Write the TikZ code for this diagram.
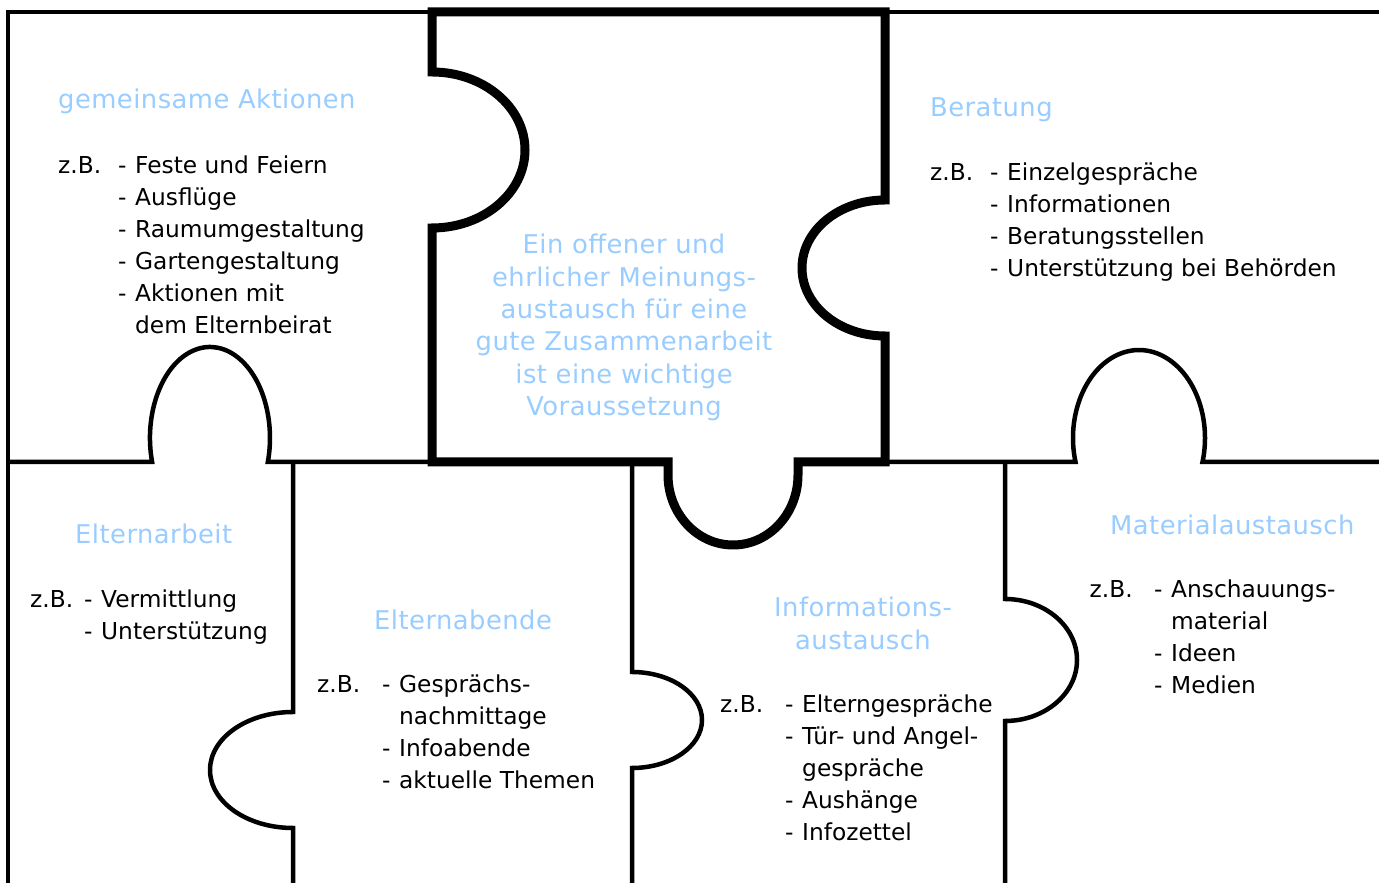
\documentclass[tikz,border=0pt]{standalone}
\usepackage{fontspec}
\setmainfont{DejaVu Sans}
\newfontfamily\pzblue[LetterSpace=1.8]{DejaVu Sans}
\definecolor{headblue}{RGB}{153,204,255}
\newcommand\pzitem{\makebox[17pt][l]{-}}
\newcommand\pzcont{\hspace*{17pt}}
\begin{document}
\begin{tikzpicture}[x=1pt,y=1pt,
  edgeline/.style={line width=4.5pt, line join=miter},
  centerline/.style={line width=9pt, line join=miter},
  head/.style={text=headblue, font=\pzblue\fontsize{25.8}{32.3}\selectfont, inner sep=0pt, anchor=base west},
  body/.style={font=\fontsize{23.3}{32}\selectfont, inner sep=0pt, anchor=base west, align=left}]
\useasboundingbox (0,0) rectangle (1379,883);
% thin puzzle edges
\draw[edgeline] (8,0) -- (8,871) -- (1379,871);
\draw[edgeline] (8,421) -- (152.1,421) arc[start angle=195.3, end angle=-15.3, x radius=60, y radius=91] -- (432,421);
\draw[edgeline] (885,421) -- (1075.5,421) arc[start angle=195.8, end angle=-15.8, x radius=66, y radius=88] -- (1379,421);
\draw[edgeline] (293,421) -- (293,171) arc[start angle=90, end angle=270, x radius=83, y radius=58] -- (293,0);
\draw[edgeline] (632,421) -- (632,211) arc[start angle=90, end angle=-90, x radius=70, y radius=48] -- (632,0);
\draw[edgeline] (1005,421) -- (1005,284) arc[start angle=90, end angle=-90, x radius=72, y radius=61] -- (1005,0);
% central piece
\draw[centerline] (432,871) -- (885,871) -- (885,683)
  arc[start angle=90, end angle=270, x radius=83, y radius=68] -- (885,421) -- (798,421) -- (798,408)
  arc[start angle=0, end angle=-180, x radius=65, y radius=70] -- (668,421) -- (432,421) -- (432,655)
  arc[start angle=-90, end angle=90, x radius=93, y radius=78] -- cycle;
% texts (multi-line nodes are anchored at the baseline of their last line)
\node[head] (h1) at (58,774) {gemeinsame Aktionen};
\node[body] (z1) at (58,709) {z.B.};
\node[body] (l1) at (118,549) {\pzitem Feste und Feiern\\\pzitem Ausflüge\\\pzitem Raumumgestaltung\\\pzitem Gartengestaltung\\\pzitem Aktionen mit\\\pzcont dem Elternbeirat};

\node[head] (h2) at (930,766) {Beratung};
\node[body] (z2) at (930,702) {z.B.};
\node[body] (l2) at (990,606) {\pzitem Einzelgespräche\\\pzitem Informationen\\\pzitem Beratungsstellen\\\pzitem Unterstützung bei Behörden};

\node[head, align=center, anchor=base] (c) at (624,467.5) {Ein offener und\\ehrlicher Meinungs-\\austausch für eine\\gute Zusammenarbeit\\ist eine wichtige\\Voraussetzung};

\node[head] (h3) at (75,339) {Elternarbeit};
\node[body] (z3) at (30,275) {z.B.};
\node[body] (l3) at (84,243) {\pzitem Vermittlung\\\pzitem Unterstützung};

\node[head] (h4) at (374,253) {Elternabende};
\node[body] (z4) at (317,190) {z.B.};
\node[body] (l4) at (382,94) {\pzitem Gesprächs-\\\pzcont nachmittage\\\pzitem Infoabende\\\pzitem aktuelle Themen};

\node[head, anchor=base, align=center] (h5) at (863,233.7) {Informations-\\austausch};
\node[body] (z5) at (720,170) {z.B.};
\node[body] (l5) at (785,42) {\pzitem Elterngespräche\\\pzitem Tür- und Angel-\\\pzcont gespräche\\\pzitem Aushänge\\\pzitem Infozettel};

\node[head] (h6) at (1110,348) {Materialaustausch};
\node[body] (z6) at (1089.5,285) {z.B.};
\node[body] (l6) at (1154,189) {\pzitem Anschauungs-\\\pzcont material\\\pzitem Ideen\\\pzitem Medien};
\end{tikzpicture}
\end{document}
